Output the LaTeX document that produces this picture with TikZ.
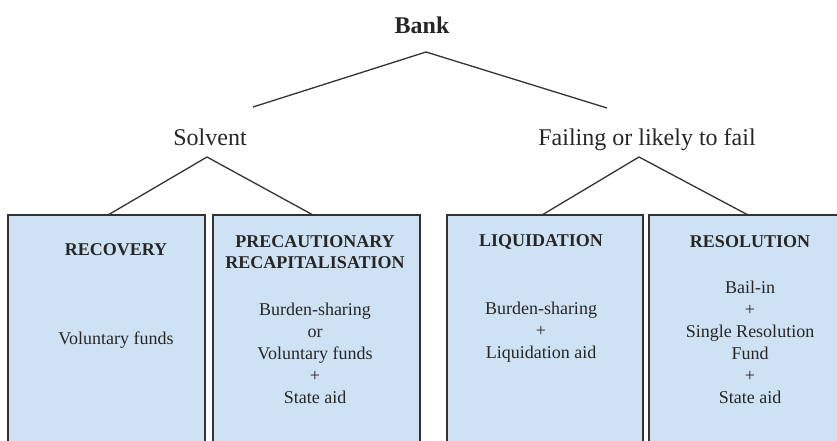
\documentclass[tikz,border=0pt]{standalone}
\usepackage{fontspec}
\setmainfont{Liberation Serif}
\definecolor{boxfill}{HTML}{CFE2F3}
\definecolor{edgecol}{HTML}{333333}
\tikzset{
  optbox/.style={draw=edgecol, line width=1.4pt, fill=boxfill},
  branch/.style={draw=edgecol, line width=1.3pt},
  lvl/.style={font=\fontsize{24}{28}\selectfont, inner sep=0pt, anchor=base, text=black!85},
  title/.style={font=\fontsize{18}{21}\selectfont\bfseries, align=center, inner sep=0pt, text=black!85},
  body/.style={font=\fontsize{18}{22}\selectfont, align=center, inner sep=0pt, text=black!85},
}
\begin{document}
\begin{tikzpicture}[x=1pt, y=-1pt]
\useasboundingbox (0,0) rectangle (837,441);
\begin{scope}
\clip (0,0) rectangle (837,441);
% boxes
\path[optbox] (8,215) rectangle (205,470);
\path[optbox] (213,215) rectangle (420,470);
\path[optbox] (447,215) rectangle (643,470);
\path[optbox] (649,215) rectangle (860,470);
\end{scope}
% labels
\node[lvl, font=\fontsize{24}{28}\selectfont\bfseries] (bank) at (422,34) {Bank};
\node[lvl] (solv) at (210,146) {Solvent};
\node[lvl] (fail) at (647,146) {Failing or likely to fail};
% connector points
\coordinate (bA) at (426,52);
\coordinate (bL) at (253,107);
\coordinate (bR) at (607,108);
\coordinate (sA) at (207,157);
\coordinate (sL) at (108,215);
\coordinate (sR) at (313,215);
\coordinate (fA) at (639,157);
\coordinate (fL) at (542,215);
\coordinate (fR) at (748,215);
\draw[branch] (bL) -- (bA) -- (bR);
\draw[branch] (sL) -- (sA) -- (sR);
\draw[branch] (fL) -- (fA) -- (fR);
% box texts
\node[title] (t1) at (116,250) {RECOVERY};
\node[body] (b1) at (116,340) {Voluntary funds};
\node[title] (t2) at (315,252.5) {PRECAUTIONARY\\RECAPITALISATION};
\node[body] (b2) at (315,353) {Burden-sharing\\or\\Voluntary funds\\+\\State aid};
\node[title] (t3) at (541,242) {LIQUIDATION};
\node[body] (b3) at (541,332) {Burden-sharing\\+\\Liquidation aid};
\node[title] (t4) at (750,242) {RESOLUTION};
\node[body] (b4) at (750,342) {Bail-in\\+\\Single Resolution\\Fund\\+\\State aid};
\end{tikzpicture}
\end{document}
